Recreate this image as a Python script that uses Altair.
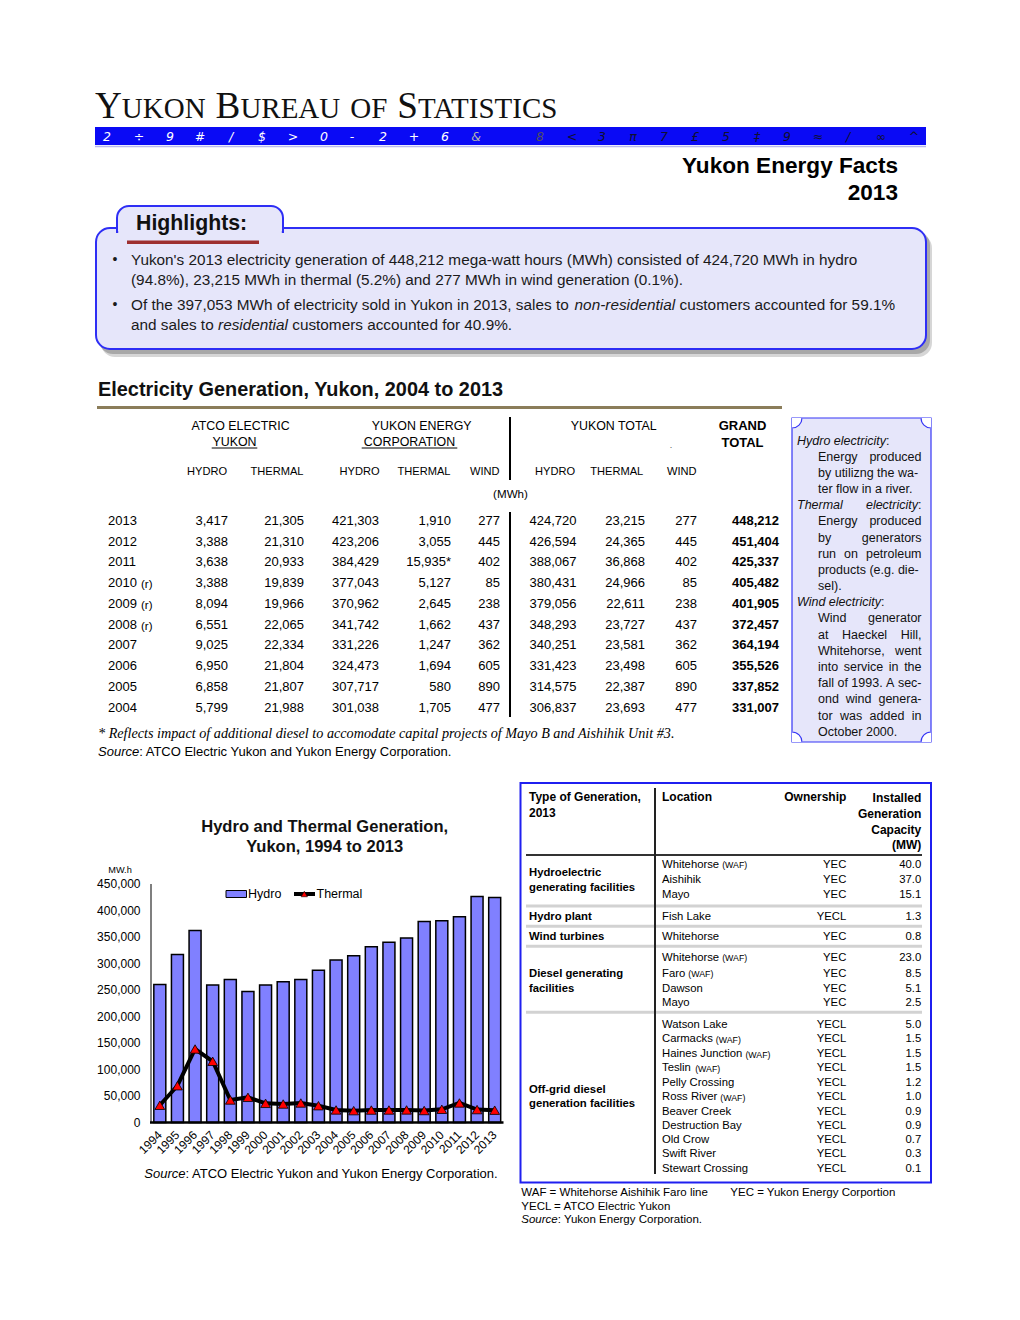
import altair as alt
import pandas as pd

OFF = 8  # page margin of the html page
SANS = "Liberation Sans"
SERIF = "Liberation Serif"

# ---------------- chart data ----------------
chart_years = list(range(1994, 2014))
hydro_mwh = [260500, 317000, 362400, 259200, 270000, 247300, 259200, 265600, 270000, 287500,
             306837, 314575, 331423, 340251, 348293, 379056, 380431, 388067, 426594, 424720]
thermal_mwh = [32500, 69400, 138700, 115500, 42500, 47500, 36200, 34900, 36800, 31700,
               23693, 22387, 23498, 23581, 23727, 22611, 24966, 36868, 24365, 23215]
y_ticks = [0, 50000, 100000, 150000, 200000, 250000, 300000, 350000, 400000, 450000]

# ---------------- generation table ----------------
table_years = [2013, 2012, 2011, 2010, 2009, 2008, 2007, 2006, 2005, 2004]
revised_years = [2010, 2009, 2008]
atco_hydro = [3417, 3388, 3638, 3388, 8094, 6551, 9025, 6950, 6858, 5799]
atco_thermal = [21305, 21310, 20933, 19839, 19966, 22065, 22334, 21804, 21807, 21988]
yec_hydro = [421303, 423206, 384429, 377043, 370962, 341742, 331226, 324473, 307717, 301038]
yec_thermal = [1910, 3055, 15935, 5127, 2645, 1662, 1247, 1694, 580, 1705]
yec_thermal_note = [2011]
yec_wind = [277, 445, 402, 85, 238, 437, 362, 605, 890, 477]
total_hydro = [424720, 426594, 388067, 380431, 379056, 348293, 340251, 331423, 314575, 306837]
total_thermal = [23215, 24365, 36868, 24966, 22611, 23727, 23581, 23498, 22387, 23693]
total_wind = [277, 445, 402, 85, 238, 437, 362, 605, 890, 477]
grand_total = [448212, 451404, 425337, 405482, 401905, 372457, 364194, 355526, 337852, 331007]

# ---------------- capacity table ----------------
cap_group_labels = [["Hydroelectric", "generating facilities"], ["Hydro plant"], ["Wind turbines"],
                    ["Diesel generating", "facilities"], ["Off-grid diesel", "generation facilities"]]
cap_location = ["Whitehorse", "Aishihik", "Mayo", "Fish Lake", "Whitehorse", "Whitehorse", "Faro", "Dawson",
                "Mayo", "Watson Lake", "Carmacks", "Haines Junction", "Teslin", "Pelly Crossing", "Ross River",
                "Beaver Creek", "Destruction Bay", "Old Crow", "Swift River", "Stewart Crossing"]
cap_waf = [1, 0, 0, 0, 0, 1, 1, 0, 0, 0, 1, 1, 1, 0, 1, 0, 0, 0, 0, 0]
cap_owner = ["YEC", "YEC", "YEC", "YECL", "YEC", "YEC", "YEC", "YEC", "YEC"] + ["YECL"] * 11
cap_mw = [40.0, 37.0, 15.1, 1.3, 0.8, 23.0, 8.5, 5.1, 2.5, 5.0, 1.5, 1.5, 1.5, 1.2, 1.0, 0.9, 0.9, 0.7, 0.3, 0.1]

# ---------------- font metrics (Arial / Times compatible) ----------------
_AR = {' ': 278, '!': 278, '"': 355, '#': 556, '$': 556, '%': 889, '&': 667, "'": 191, '(': 333, ')': 333,
       '*': 389, '+': 584, ',': 278, '-': 333, '.': 278, '/': 278, ':': 278, ';': 278, '=': 584, '?': 556}
_AB = {' ': 278, '!': 333, '"': 474, '#': 556, '$': 556, '%': 889, '&': 722, "'": 238, '(': 333, ')': 333,
       '*': 389, '+': 584, ',': 278, '-': 333, '.': 278, '/': 278, ':': 333, ';': 333, '=': 584, '?': 611}
for _c in "0123456789":
    _AR[_c] = 556
    _AB[_c] = 556
_AR.update(dict(zip("ABCDEFGHIJKLMNOPQRSTUVWXYZ",
                    [667, 667, 722, 722, 667, 611, 778, 722, 278, 500, 667, 556, 833, 722, 778, 667, 778, 722, 667, 611, 722, 667, 944, 667, 667, 611])))
_AR.update(dict(zip("abcdefghijklmnopqrstuvwxyz",
                    [556, 556, 500, 556, 556, 278, 556, 556, 222, 222, 500, 222, 833, 556, 556, 556, 556, 333, 500, 278, 556, 500, 722, 500, 500, 500])))
_AB.update(dict(zip("ABCDEFGHIJKLMNOPQRSTUVWXYZ",
                    [722, 722, 722, 722, 667, 611, 778, 722, 278, 556, 722, 611, 833, 722, 778, 667, 778, 722, 667, 611, 722, 667, 944, 667, 667, 611])))
_AB.update(dict(zip("abcdefghijklmnopqrstuvwxyz",
                    [556, 611, 556, 611, 556, 333, 611, 611, 278, 278, 556, 278, 889, 611, 611, 611, 611, 389, 556, 333, 611, 556, 778, 556, 556, 500])))
_TR = dict(zip("ABCDEFGHIJKLMNOPQRSTUVWXYZ",
               [722, 667, 667, 722, 611, 556, 722, 722, 333, 389, 722, 611, 889, 722, 722, 556, 722, 667, 556, 611, 722, 722, 944, 722, 722, 611]))


def tw(s, size, table=_AR):
    return sum(table.get(c, 556) for c in s) * size / 1000.0


XQ = alt.X("x:Q", scale=None, axis=None)
YQ = alt.Y("y:Q", scale=None, axis=None)


def texts(rows, size, weight="normal", style="normal", align="left", font=SANS, color="black",
          baseline="middle", angle=None):
    df = pd.DataFrame([{"x": r[0] - OFF, "y": r[1] - OFF, "t": r[2],
                        "c": (r[3] if len(r) > 3 else color)} for r in rows])
    kw = dict(fontSize=size, fontWeight=weight, fontStyle=style, align=align, font=font, baseline=baseline)
    if angle is not None:
        kw["angle"] = angle
    return alt.Chart(df).mark_text(**kw).encode(x=XQ, y=YQ, text="t:N", color=alt.Color("c:N", scale=None))


def rects(boxes, **props):
    df = pd.DataFrame([{"x": a - OFF, "y": b - OFF, "x2": c - OFF, "y2": d - OFF} for a, b, c, d in boxes])
    return alt.Chart(df).mark_rect(**props).encode(x=XQ, x2="x2:Q", y=YQ, y2="y2:Q")


def rules(segs, **props):
    df = pd.DataFrame([{"x": a - OFF, "y": b - OFF, "x2": c - OFF, "y2": d - OFF} for a, b, c, d in segs])
    return alt.Chart(df).mark_rule(**props).encode(x=XQ, x2="x2:Q", y=YQ, y2="y2:Q")


def arc(cx, cy, t1, t2, r_out, r_in, color):
    df = pd.DataFrame({"x": [cx - OFF], "y": [cy - OFF]})
    return alt.Chart(df).mark_arc(theta=t1, theta2=t2, radius=r_out, radius2=r_in, color=color).encode(x=XQ, y=YQ)


layers = []
L = layers.append
PI = 3.14159265

# ================= header =================
L(rects([(95, 127, 926, 145)], fill="#0A0AF5"))
L(rules([(95, 146.5, 926, 146.5)], color="#B8B8F0", strokeWidth=1.5))
glyph_x = [107, 139, 170, 200, 231, 262, 293, 324, 352, 383, 414, 445, 476,
           540, 572, 602, 633, 664, 695, 726, 757, 787, 818, 848, 881, 914]
glyph_c = ["2", "÷", "9", "#", "/", "$", ">", "0", "-", "2", "+", "6", "&",
           "8", "<", "3", "π", "7", "£", "5", "‡", "9", "≈", "/", "∞", "^"]
glyph_col = ["white"] * 12 + ["#B0B0B0", "#505060"] + ["#101030"] * 12
L(texts([(x, 136.5, g, col) for x, g, col in zip(glyph_x, glyph_c, glyph_col)], 12.5,
        style="italic", align="center", font="DejaVu Sans"))

# small-caps title
words = ["YUKON", "BUREAU", "OF", "STATISTICS"]
big_init = [True, True, False, True]
ratio = 0.78
em_total = 0
for w, b in zip(words, big_init):
    if b:
        em_total += _TR[w[0]] / 1000 + sum(_TR[c] for c in w[1:]) / 1000 * ratio
    else:
        em_total += sum(_TR[c] for c in w) / 1000 * ratio
S_big = 438.0 / em_total
S_small = S_big * ratio
gap = (468 - 438.0) / 3
xcur = 95
big_rows, small_rows = [], []
for w, b in zip(words, big_init):
    if b:
        big_rows.append((xcur, 118, w[0]))
        xs = xcur + _TR[w[0]] * S_big / 1000
        small_rows.append((xs, 118, w[1:]))
        xcur = xs + sum(_TR[c] for c in w[1:]) * S_small / 1000 + gap
    else:
        small_rows.append((xcur, 118, w))
        xcur = xcur + sum(_TR[c] for c in w) * S_small / 1000 + gap
L(texts(big_rows, S_big, font=SERIF, baseline="alphabetic", color="#111111"))
L(texts(small_rows, S_small, font=SERIF, baseline="alphabetic", color="#111111"))

L(texts([(898, 165.5, "Yukon Energy Facts"), (898, 193, "2013")], 22.6, weight="bold", align="right"))

# ================= highlights box =================
HL_FILL = "#E6E6FA"
HL_BLUE = "#2E2EF5"
L(rects([(101, 234, 932, 357)], fill="#8A8A8A", opacity=0.35, cornerRadius=14))
L(rects([(99, 231, 930, 354)], fill="#707070", opacity=0.45, cornerRadius=14))
L(rects([(96, 228, 926, 349)], fill=HL_FILL, stroke=HL_BLUE, strokeWidth=2, cornerRadius=14))
L(rects([(117, 206, 283, 232)], fill=HL_FILL, stroke=HL_BLUE, strokeWidth=2,
        cornerRadiusTopLeft=12, cornerRadiusTopRight=12))
L(rects([(118.2, 226, 281.8, 234)], fill=HL_FILL))
L(texts([(136, 223.5, "Highlights:")], 21.3, weight="bold", color="#111111"))
L(rects([(127, 240.5, 259, 244)], fill="#9E3030"))

hl_line1 = "Yukon's 2013 electricity generation of 448,212 mega-watt hours (MWh) consisted of 424,720 MWh in hydro"
hl_line2 = "(94.8%), 23,215 MWh in thermal (5.2%) and 277 MWh in wind generation (0.1%)."
hl3 = ["Of the 397,053 MWh of electricity sold in Yukon in 2013, sales to", "non-residential",
       "customers accounted for 59.1%"]
hl4 = ["and sales to", "residential", "customers accounted for 40.9%."]
HS = 728.0 / tw(hl_line1, 1.0)
HX = 131
sp = tw(" ", HS)
reg_rows = [(HX, 260, hl_line1), (HX, 280, hl_line2)]
ital_rows = []
for yy, parts in ((305, hl3), (325, hl4)):
    x0 = HX
    reg_rows.append((x0, yy, parts[0]))
    x1 = x0 + tw(parts[0], HS) + sp
    ital_rows.append((x1, yy, parts[1]))
    x2 = x1 + tw(parts[1], HS) + sp
    reg_rows.append((x2, yy, parts[2]))
L(texts(reg_rows, HS, color="#1A1A1A"))
L(texts(ital_rows, HS, style="italic", color="#1A1A1A"))
L(texts([(115, 260, "•"), (115, 305, "•")], 14, align="center", color="#1A1A1A"))

# ================= generation table =================
L(texts([(98, 389.5, "Electricity Generation, Yukon, 2004 to 2013")],
        407.0 / tw("Electricity Generation, Yukon, 2004 to 2013", 1.0, _AB), weight="bold", color="#111111"))
L(rules([(97, 407.5, 782, 407.5)], color="#8B7D5A", strokeWidth=3))

L(texts([(240.5, 426, "ATCO ELECTRIC"), (234.5, 442, "YUKON"), (421.7, 426, "YUKON ENERGY"),
         (409.5, 442, "CORPORATION"), (613.7, 426, "YUKON TOTAL")], 12.4, align="center"))
L(rules([(211.7, 448, 257.3, 448), (361.7, 448, 457.3, 448)], color="black", strokeWidth=1))
L(texts([(742.5, 426, "GRAND"), (742.5, 442.5, "TOTAL")], 13, weight="bold", align="center"))
L(texts([(671, 445, ".")], 9, align="center", color="#555555"))
col_heads = [(207, "HYDRO"), (277, "THERMAL"), (359.5, "HYDRO"), (424, "THERMAL"), (484.7, "WIND"),
             (555, "HYDRO"), (616.7, "THERMAL"), (681.7, "WIND")]
L(texts([(x, 471.5, t) for x, t in col_heads], 11.1, align="center"))
L(texts([(510.5, 494.5, "(MWh)")], 11.6, align="center"))
L(rules([(510, 417, 510, 480), (510, 512, 510, 717)], color="black", strokeWidth=2))

yrow = alt.Scale(type="point", domain=table_years, range=[521 - OFF, 707.5 - OFF], padding=0)


def table_col(values, right_x, bold=False, notes=()):
    df = pd.DataFrame({"year": table_years,
                       "v": ["{:,}".format(v) + ("*" if yr in notes else "") for yr, v in zip(table_years, values)]})
    return alt.Chart(df).mark_text(align="right", baseline="middle", font=SANS, fontSize=13,
                                   fontWeight=("bold" if bold else "normal")).encode(
        x=alt.value(right_x - OFF), y=alt.Y("year:O", scale=yrow, axis=None), text="v:N")


ydf = pd.DataFrame({"year": table_years, "t": [str(y) for y in table_years]})
L(alt.Chart(ydf).mark_text(align="left", baseline="middle", font=SANS, fontSize=13).encode(
    x=alt.value(108 - OFF), y=alt.Y("year:O", scale=yrow, axis=None), text="t:N"))
rdf = pd.DataFrame({"year": revised_years, "t": ["(r)"] * len(revised_years)})
L(alt.Chart(rdf).mark_text(align="left", baseline="middle", font=SANS, fontSize=11.5, dy=2).encode(
    x=alt.value(141 - OFF), y=alt.Y("year:O", scale=yrow, axis=None), text="t:N"))
L(table_col(atco_hydro, 228))
L(table_col(atco_thermal, 304))
L(table_col(yec_hydro, 379))
L(table_col(yec_thermal, 451, notes=yec_thermal_note))
L(table_col(yec_wind, 500))
L(table_col(total_hydro, 576.5))
L(table_col(total_thermal, 645))
L(table_col(total_wind, 697))
L(table_col(grand_total, 779, bold=True))

L(texts([(98, 734, "* Reflects impact of additional diesel to accomodate capital projects of Mayo B and Aishihik Unit #3.")],
        14.2, style="italic", font=SERIF))
L(texts([(98, 751.5, "Source")], 13, style="italic"))
L(texts([(98 + tw("Source", 13), 751.5, ": ATCO Electric Yukon and Yukon Energy Corporation.")], 13))

# ================= definitions side box =================
SB_FILL = "#E6E6FA"
SB_BLUE = "#3535F5"
L(rects([(792, 418, 931, 742)], fill=SB_FILL, stroke=SB_BLUE, strokeWidth=1.2))
R = 10
corners = [(792, 418, PI / 2, PI), (931, 418, PI, 1.5 * PI), (931, 742, 1.5 * PI, 2 * PI), (792, 742, 0, PI / 2)]
for cx, cy, t1, t2 in corners:
    L(arc(cx, cy, t1, t2, R + 0.6, 0, "white"))
for cx, cy, t1, t2 in corners:
    L(arc(cx, cy, t1, t2, R + 0.6, R - 0.6, SB_BLUE))

side_lines = [
    ("L", "Hydro electricity"), ("J", "Energy produced"), ("N", "by utilizng the wa-"),
    ("N", "ter flow in a river."), ("LJ", "Thermal electricity"), ("J", "Energy produced"),
    ("J", "by generators"), ("J", "run on petroleum"), ("N", "products (e.g. die-"), ("N", "sel)."),
    ("L", "Wind electricity"), ("J", "Wind generator"), ("J", "at Haeckel Hill,"), ("J", "Whitehorse, went"),
    ("J", "into service in the"), ("J", "fall of 1993. A sec-"), ("J", "ond wind genera-"),
    ("J", "tor was added in"), ("N", "October 2000."),
]
FS_SB = 12.5
LX, BX, RX = 797, 818, 921.5
s_reg, s_it = [], []
for i, (kind, txt) in enumerate(side_lines):
    yy = 440.5 + 16.18 * i
    if kind == "L":
        s_it.append((LX, yy, txt))
        s_reg.append((LX + tw(txt, FS_SB), yy, ":"))
    elif kind == "LJ":
        w1, w2 = txt.split(" ")
        s_it.append((LX, yy, w1))
        xw2 = RX - tw(":", FS_SB) - tw(w2, FS_SB)
        s_it.append((xw2, yy, w2))
        s_reg.append((RX - tw(":", FS_SB), yy, ":"))
    elif kind == "J":
        ws = txt.split(" ")
        widths = [tw(w, FS_SB) for w in ws]
        g = (RX - BX - sum(widths)) / (len(ws) - 1)
        xx = BX
        for w, wd in zip(ws, widths):
            s_reg.append((xx, yy, w))
            xx += wd + g
    else:
        s_reg.append((BX, yy, txt))
L(texts(s_reg, FS_SB, color="#111111"))
L(texts(s_it, FS_SB, style="italic", color="#111111"))

# ================= bar / line chart =================
ct1 = "Hydro and Thermal Generation,"
CT = 247.0 / tw(ct1, 1.0, _AB)
L(texts([(324.7, 827, ct1), (324.7, 847, "Yukon, 1994 to 2013")], CT, weight="bold", align="center",
        color="#111111"))
L(texts([(108.3, 870, "MW.h")], 9.2))

cdf = pd.DataFrame({"year": chart_years, "hydro": hydro_mwh, "thermal": thermal_mwh})
X0, X1 = 151 - OFF, 503.5 - OFF
xband = alt.Scale(type="band", domain=chart_years, range=[X0, X1], paddingInner=0.32, paddingOuter=0.16)
xpt = alt.Scale(type="point", domain=chart_years, range=[X0, X1], padding=0.5)
yq = alt.Scale(domain=[0, 450000], range=[1122.5 - OFF, 884 - OFF], nice=False, zero=True)

L(alt.Chart(cdf).mark_bar(fill="#8080FF", stroke="black", strokeWidth=1.5).encode(
    x=alt.X("year:O", scale=xband, axis=None), y=alt.Y("hydro:Q", scale=yq, axis=None)))
L(rules([(151, 884, 151, 1122.5)], color="#555555", strokeWidth=1.5))
L(rules([(150, 1122.5, 503.5, 1122.5)], color="black", strokeWidth=2.5))
L(alt.Chart(cdf).mark_line(color="black", strokeWidth=4).encode(
    x=alt.X("year:O", scale=xpt, axis=None), y=alt.Y("thermal:Q", scale=yq, axis=None)))
L(alt.Chart(cdf).mark_point(shape="triangle-up", filled=True, fill="#FF0000", stroke="black",
                            strokeWidth=0.8, size=95, opacity=1).encode(
    x=alt.X("year:O", scale=xpt, axis=None), y=alt.Y("thermal:Q", scale=yq, axis=None)))

tdf = pd.DataFrame({"v": y_ticks, "t": ["{:,}".format(v) for v in y_ticks]})
L(alt.Chart(tdf).mark_text(align="right", baseline="middle", font=SANS, fontSize=12).encode(
    x=alt.value(140.5 - OFF), y=alt.Y("v:Q", scale=yq, axis=None), text="t:N"))
xdf = pd.DataFrame({"year": chart_years, "t": [str(y) for y in chart_years]})
L(alt.Chart(xdf).mark_text(align="right", baseline="middle", font=SANS, fontSize=12, angle=315).encode(
    x=alt.X("year:O", scale=xpt, axis=None), y=alt.value(1133 - OFF), text="t:N"))

# legend
L(rects([(226, 890.5, 246.5, 897.5)], fill="#8080FF", stroke="black", strokeWidth=1))
L(rules([(294, 894, 315, 894)], color="black", strokeWidth=4))
L(alt.Chart(pd.DataFrame({"x": [304.3 - OFF], "y": [894 - OFF]})).mark_point(
    shape="triangle-up", filled=True, fill="#FF0000", stroke="black", strokeWidth=0.6, size=40, opacity=1).encode(x=XQ, y=YQ))
L(texts([(248, 894, "Hydro"), (316.5, 894, "Thermal")], 12.5))

L(texts([(144.3, 1174, "Source")], 13, style="italic"))
L(texts([(144.3 + tw("Source", 13), 1174, ": ATCO Electric Yukon and Yukon Energy Corporation.")], 13))

# ================= capacity table =================
CB = "#1F1FF0"
L(rules([(526, 906, 922, 906), (526, 926.3, 922, 926.3), (526, 946.3, 922, 946.3), (526, 1012.3, 922, 1012.3)],
        color="#D2D2D2", strokeWidth=3))
L(rules([(526, 855, 922, 855)], color="#333333", strokeWidth=2))
L(rules([(655, 788, 655, 1174)], color="#222222", strokeWidth=2))
L(rects([(520.5, 783, 931, 1182.5)], fillOpacity=0, stroke=CB, strokeWidth=2))

L(texts([(529, 797, "Type of Generation,"), (529, 813, "2013"), (662, 797, "Location")], 12, weight="bold"))
L(texts([(846.3, 797, "Ownership"), (921.3, 798, "Installed"), (921.3, 814.3, "Generation"),
         (921.3, 829.7, "Capacity"), (921.3, 844.7, "(MW)")], 12, weight="bold", align="right"))

group_y = [[872.7, 888], [917], [937.3], [973.7, 988.7], [1090, 1104]]
g_rows = []
for labs, ys in zip(cap_group_labels, group_y):
    for lab, yy in zip(labs, ys):
        g_rows.append((529, yy, lab))
L(texts(g_rows, 11.3, weight="bold"))

row_y = [864.7, 880.3, 895.3, 917, 937.3, 957.7, 973.7, 988.7, 1003,
         1025, 1039.3, 1054, 1068.3, 1082.7, 1097, 1111.7, 1125.7, 1140, 1154, 1169]
FS_C = 11.3
L(texts([(662, yy, loc) for loc, yy in zip(cap_location, row_y)], FS_C))
L(texts([(662 + tw(loc, FS_C) + 3, yy + 0.5, "(WAF)") for loc, yy, w in zip(cap_location, row_y, cap_waf) if w],
        8.8))
L(texts([(846.3, yy, o) for o, yy in zip(cap_owner, row_y)], FS_C, align="right"))
L(texts([(921.3, yy, "{:.1f}".format(m)) for m, yy in zip(cap_mw, row_y)], FS_C, align="right"))

L(texts([(521.3, 1193.3, "WAF = Whitehorse Aishihik Faro line"), (730.3, 1193.3, "YEC = Yukon Energy Corportion"),
         (521.3, 1206.7, "YECL = ATCO Electric Yukon")], 11.5))
L(texts([(521.3, 1220, "Source")], 11.5, style="italic"))
L(texts([(521.3 + tw("Source", 11.5), 1220, ": Yukon Energy Corporation.")], 11.5))

chart = alt.layer(*layers).resolve_scale(x="independent", y="independent").properties(
    width=1004, height=1300, padding=0, autosize="none", background="white"
).configure_view(stroke=None)

chart.save("out.html", embed_options={"renderer": "svg", "actions": False})
